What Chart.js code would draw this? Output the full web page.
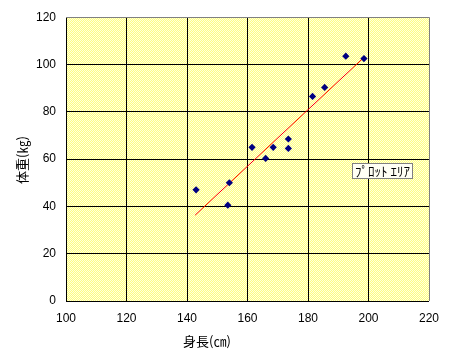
<!DOCTYPE html>
<html>
<head>
<meta charset="utf-8">
<script src="https://cdn.jsdelivr.net/npm/chart.js@4/dist/chart.umd.min.js"></script>
<style>
  html, body { margin: 0; padding: 0; background: #fff; }
  #wrap { width: 453px; height: 361px; }
</style>
</head>
<body>
<div id="wrap"><canvas id="chart" width="453" height="361"></canvas></div>
<script>
// 身長 / 体重 data
var heights = [143, 154, 153.5, 161.5, 166, 168.5, 173.5, 173.5, 181.5, 185.5, 192.5, 198.5];
var weights = [47, 50, 40.5, 65, 60.3, 65, 68.5, 64.5, 86.5, 90.3, 103.5, 102.5];

// trend line end points
var trendX = [142.7, 198.5];
var trendY = [36.3, 103];

var xTicks = [100, 120, 140, 160, 180, 200, 220];
var yTicks = [0, 20, 40, 60, 80, 100, 120];

var xTitle = "身長(㎝)";
var yTitle = "体重(㎏)";
var areaLabel = "ﾌﾟﾛｯﾄ ｴﾘｱ";

var points = heights.map(function (h, i) { return { x: h, y: weights[i] }; });
var trend = trendX.map(function (x, i) { return { x: x, y: trendY[i] }; });

// dithered yellow fill like the original plot area
function makePattern(ctx) {
  var c = document.createElement("canvas");
  c.width = 2;
  c.height = 2;
  var p = c.getContext("2d");
  p.fillStyle = "#ffff80";
  p.fillRect(0, 0, 2, 2);
  p.fillStyle = "#ffffe0";
  p.fillRect(0, 0, 1, 1);
  p.fillRect(1, 1, 1, 1);
  return ctx.createPattern(c, "repeat");
}

var plotBg = {
  id: "plotBg",
  beforeDraw: function (chart) {
    var ctx = chart.ctx;
    var a = chart.chartArea;
    ctx.save();
    ctx.fillStyle = makePattern(ctx);
    ctx.fillRect(a.left, a.top, a.right - a.left, a.bottom - a.top);
    ctx.restore();
  },
  afterDraw: function (chart) {
    var ctx = chart.ctx;
    ctx.save();
    ctx.fillStyle = "#000";
    ctx.font = "13px 'Noto Sans CJK JP'";
    ctx.textAlign = "center";
    ctx.textBaseline = "middle";
    ctx.fillText(xTitle, 207, 341);
    ctx.translate(22, 160);
    ctx.rotate(-Math.PI / 2);
    ctx.fillText(yTitle, 0, 0);
    ctx.restore();

    // the plot area tip box
    ctx.save();
    ctx.fillStyle = "#fffff4";
    ctx.fillRect(352, 163, 61, 16);
    ctx.strokeStyle = "#808080";
    ctx.lineWidth = 1;
    ctx.strokeRect(352.5, 163.5, 60, 15);
    ctx.fillStyle = "#000";
    ctx.font = "13px 'Noto Sans CJK JP'";
    ctx.textAlign = "center";
    ctx.textBaseline = "middle";
    ctx.fillText(areaLabel, 382.5, 171);
    ctx.restore();
  }
};

var ctx = document.getElementById("chart").getContext("2d");

var myChart = new Chart(ctx, {
  type: "scatter",
  data: {
    datasets: [
      {
        label: "体重",
        data: points,
        pointStyle: "rectRot",
        pointRadius: 3.6,
        pointHoverRadius: 3.6,
        backgroundColor: "#000080",
        borderColor: "#000080",
        borderWidth: 0,
        order: 1
      },
      {
        label: "近似直線",
        type: "line",
        data: trend,
        showLine: true,
        borderColor: "#ff0000",
        borderWidth: 1,
        pointRadius: 0,
        fill: false,
        order: 2
      }
    ]
  },
  options: {
    responsive: false,
    animation: false,
    layout: { padding: { top: 17, right: 24, left: 0, bottom: 0 } },
    plugins: {
      legend: { display: false },
      tooltip: { enabled: false }
    },
    scales: {
      x: {
        type: "linear",
        min: 100,
        max: 220,
        afterBuildTicks: function (scale) {
          scale.ticks = xTicks.map(function (v) { return { value: v }; });
        },
        afterFit: function (scale) { scale.height = 60; },
        grid: {
          color: function (c) { return c.tick && c.tick.value === 220 ? "#808080" : "#000"; },
          lineWidth: 1,
          drawTicks: false
        },
        border: { display: false },
        ticks: {
          color: "#000",
          padding: 10,
          maxRotation: 0,
          font: { family: "'Liberation Sans', Arial", size: 12 }
        }
      },
      y: {
        type: "linear",
        min: 0,
        max: 120,
        afterBuildTicks: function (scale) {
          scale.ticks = yTicks.map(function (v) { return { value: v }; });
        },
        afterFit: function (scale) { scale.width = 66; },
        grid: {
          color: function (c) { return c.tick && c.tick.value === 120 ? "#808080" : "#000"; },
          lineWidth: 1,
          drawTicks: false
        },
        border: { display: false },
        ticks: {
          color: "#000",
          padding: 10,
          font: { family: "'Liberation Sans', Arial", size: 12 }
        }
      }
    }
  },
  plugins: [plotBg]
});
</script>
</body>
</html>
